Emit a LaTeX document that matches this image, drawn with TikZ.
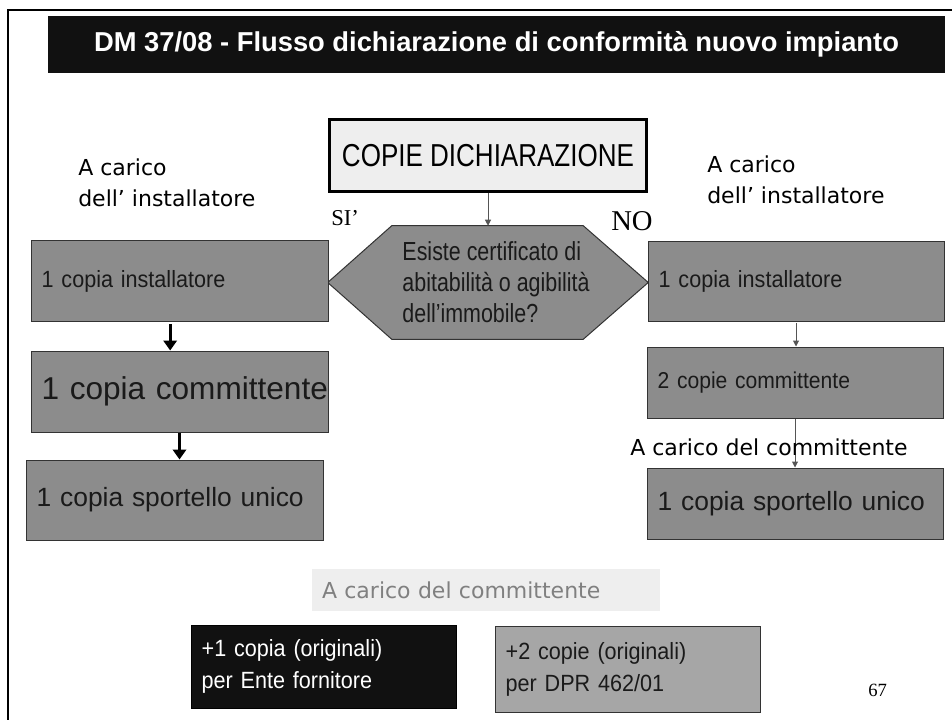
\documentclass[tikz,border=0pt]{standalone}
\usepackage{fontspec}
\setmainfont{Liberation Sans}
\newfontfamily\narrowsf[FakeStretch=0.82]{Liberation Sans}
\newfontfamily\boxsf[FakeStretch=0.92]{Liberation Sans}
\newfontfamily\gothicsf{DejaVu Sans}
\newfontfamily\serifrm{Liberation Serif}
\usepackage{tikz}
\usetikzlibrary{arrows.meta, positioning, calc}

\definecolor{boxgray}{HTML}{8C8C8C}   % 灰色方框
\definecolor{boxlight}{HTML}{A6A6A6}  % 浅灰方框
\definecolor{boxtext}{HTML}{1A1A1A}   % 方框文字
\definecolor{panelgray}{HTML}{EEEEEE} % 浅底色
\definecolor{labelgray}{HTML}{808080} % 灰色文字
\definecolor{linegray}{HTML}{555555}  % 细箭头
\definecolor{barblack}{HTML}{111111}  % 黑色标题栏

\tikzset{
  copybox/.style={rectangle, draw=black!80, line width=0.75pt, fill=boxgray, text=boxtext,
                  inner xsep=8pt, inner ysep=0pt, align=left},
  thickarrow/.style={line width=2.25pt, -{Triangle[width=10pt,length=7.5pt]}},
  thinarrow/.style={line width=0.75pt, draw=linegray, -{Triangle[width=4.5pt,length=4.5pt]}},
  carico/.style={inner sep=0pt, align=left, anchor=west,
                 font=\gothicsf\fontsize{16.5}{23.25}\selectfont},
}

\begin{document}
\begin{tikzpicture}[x=0.75pt, y=-0.75pt] % 像素坐标,y轴向下
\useasboundingbox (0,0) rectangle (952,720); % 固定页面大小
\draw[line width=2pt] (8,720) -- (8,10) -- (952,10); % 外框(左、上)

% 标题栏
\node[fill=barblack, text=white, minimum width=672.75pt, minimum height=42.75pt,
      font=\bfseries\fontsize{20.5}{24}\selectfont] (title) at (496.5,44.5)
      {DM 37/08 - Flusso dichiarazione di conformità nuovo impianto};

% 顶部方框
\node[draw=black, line width=2.25pt, fill=panelgray, minimum width=238pt, minimum height=54pt,
      font=\narrowsf\fontsize{23.8}{28}\selectfont] (copie) at (488,155.5) {COPIE DICHIARAZIONE};

% 判断框(六边形)
\node[minimum width=240pt, minimum height=84.75pt, inner sep=0pt] (dom) at (488,282.5) {};
\filldraw[fill=boxgray, draw=black!80, line width=0.75pt]
  (dom.west) -- ([xshift=48pt]dom.north west) -- ([xshift=-48.75pt]dom.north east)
  -- (dom.east) -- ([xshift=-48.75pt]dom.south east) -- ([xshift=48pt]dom.south west) -- cycle;
\node[align=left, inner sep=0pt, text=boxtext, font=\narrowsf\fontsize{19.6}{23.25}\selectfont]
  (domtext) at ([xshift=6pt]dom.center) {Esiste certificato di\\abitabilità o agibilità\\dell’immobile?};

\node[anchor=west, inner sep=0pt, font=\serifrm\fontsize{17}{20}\selectfont] (si) at (331,218) {SI’};
\node[anchor=west, inner sep=0pt, font=\serifrm\fontsize{21.5}{24}\selectfont] (no) at (611,221) {NO};

% 左列:SI’
\node[carico] (lcarico) at (78,182.5) {A carico\\dell’ installatore};
\node[copybox, text width=206.75pt, minimum height=60pt, font=\boxsf\fontsize{17.6}{24}\selectfont]
  (linst) at (179.5,281) {1 copia installatore};
\node[copybox, text width=206.75pt, minimum height=60.75pt, font=\fontsize{23.7}{28}\selectfont]
  (lcomm) at (179.5,391.5) {\mbox{1 copia committente}};
\node[copybox, text width=206.75pt, minimum height=60pt, font=\fontsize{19.8}{24}\selectfont]
  (lsport) at (174.5,500) {1 copia sportello unico};

% 右列:NO
\node[carico] (rcarico) at (707,180) {A carico\\dell’ installatore};
\node[copybox, text width=206pt, minimum height=59.25pt, font=\boxsf\fontsize{17.6}{24}\selectfont]
  (rinst) at (796,281.5) {1 copia installatore};
\node[copybox, text width=206pt, minimum height=53.25pt, font=\boxsf\fontsize{17.2}{24}\selectfont]
  (rcomm) at (795,382.5) {2 copie committente};
\node[copybox, text width=206pt, minimum height=53.25pt, font=\fontsize{19.8}{24}\selectfont]
  (rsport) at (795,503.5) {1 copia sportello unico};

% 箭头
\draw[thinarrow] (copie.south) -- (copie.south |- dom.north);
\draw[thickarrow, shorten <=2pt] ([xshift=-7pt]linst.south) -- ([xshift=-7pt]linst.south |- lcomm.north);
\draw[thickarrow] (lcomm.south) -- (lcomm.south |- lsport.north);
\draw[thinarrow, shorten <=1pt] (rinst.south) -- (rinst.south |- rcomm.north);
\draw[thinarrow] (rcomm.south) -- (rcomm.south |- rsport.north);
\node[carico] (rpayer) at (630,447) {A carico del committente}; % 压在竖线上

% 底部
\node[fill=panelgray, text=labelgray, inner xsep=7.5pt, inner ysep=0pt, text width=246pt,
      minimum height=31.5pt, align=left, font=\gothicsf\fontsize{16.5}{20}\selectfont]
  (payer) at (486,590) {A carico del committente};
\node[copybox, fill=barblack, draw=black, text=white, text width=182.75pt, minimum height=62.25pt,
      font=\boxsf\fontsize{17.6}{24}\selectfont] (ente) at (323.5,666.5) {+1 copia (originali)\\per Ente fornitore};
\node[copybox, fill=boxlight, text width=182.75pt, minimum height=64.5pt,
      font=\boxsf\fontsize{17.6}{24}\selectfont] (dpr) at (627.5,669) {+2 copie (originali)\\per DPR 462/01};

\node[anchor=west, inner sep=0pt, font=\serifrm\fontsize{14}{16}\selectfont] (page) at (868,690) {67};
\end{tikzpicture}
\end{document}
